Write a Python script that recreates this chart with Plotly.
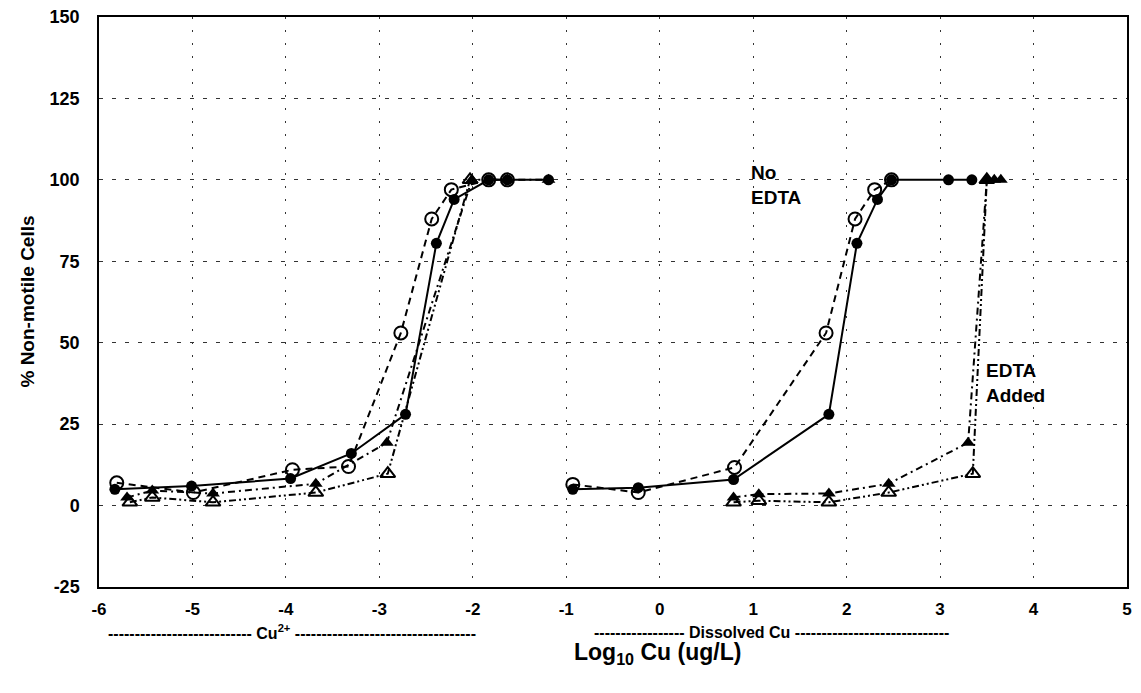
import plotly.graph_objects as go

# ---- data (log10 Cu, % non-motile cells) ----
# Left cluster: Cu2+ activity
cu_fc_x = [-5.83, -5.01, -3.95, -3.30, -2.72, -2.39, -2.20, -1.83, -1.63, -1.19]
cu_fc_y = [5, 6, 8.3, 16, 28, 80.5, 94, 100, 100, 100]
cu_oc_x = [-5.81, -4.99, -3.93, -3.33, -2.77, -2.44, -2.23, -1.83, -1.63]
cu_oc_y = [7, 4, 11, 12, 53, 88, 97, 100, 100]
cu_ft_x = [-5.70, -5.43, -4.78, -3.68, -2.92, -2.01, -1.63, -1.19]
cu_ft_y = [2.5, 4.6, 3.7, 6.7, 19.3, 100, 100, 100]
cu_ot_x = [-5.67, -5.43, -4.78, -3.68, -2.91, -2.03]
cu_ot_y = [1, 2.5, 1, 4, 9.8, 100]

# Right cluster: dissolved Cu
d_fc_x = [-0.93, -0.23, 0.79, 1.81, 2.11, 2.33, 2.48, 3.09, 3.34]
d_fc_y = [5, 5.5, 8, 28, 80.5, 94, 100, 100, 100]
d_oc_x = [-0.93, -0.23, 0.80, 1.78, 2.09, 2.30, 2.48]
d_oc_y = [6.5, 4, 11.7, 53, 88, 97, 100]
d_ft_x = [0.79, 1.06, 1.81, 2.45, 3.30, 3.50, 3.58, 3.65]
d_ft_y = [2.5, 3.5, 3.7, 6.7, 19.3, 100, 100, 100]
d_ot_x = [0.79, 1.06, 1.81, 2.45, 3.35, 3.50]
d_ot_y = [1, 1.5, 1, 4, 9.8, 100]

x_ticks = [-6, -5, -4, -3, -2, -1, 0, 1, 2, 3, 4, 5]
x_ticktext = ["-6", "-5", "-4", "-3", "-2", "-1", "0", "1", "2", "3", "4", "5"]
y_ticks = [-25, 0, 25, 50, 75, 100, 125, 150]
y_ticktext = ["-25", "0", "25", "50", "75", "100", "125", "150"]

FONT = "Arial, Liberation Sans, Helvetica, sans-serif"

styles = {
    "fc": dict(line=dict(color="black", width=2, dash="solid"),
               marker=dict(symbol="circle", size=11, color="black")),
    "oc": dict(line=dict(color="black", width=2, dash="7px,5px"),
               marker=dict(symbol="circle-open", size=13, color="black", line=dict(width=2, color="black"))),
    "ft": dict(line=dict(color="black", width=2, dash="7px,4px,2px,4px"),
               marker=dict(symbol="triangle-up", size=12, color="black")),
    "ot": dict(line=dict(color="black", width=2, dash="7px,3px,2px,3px,2px,3px"),
               marker=dict(symbol="triangle-up-open", size=13, color="black", line=dict(width=2, color="black"))),
}

fig = go.Figure()
series = [
    ("ot", cu_ot_x, cu_ot_y), ("ft", cu_ft_x, cu_ft_y), ("oc", cu_oc_x, cu_oc_y), ("fc", cu_fc_x, cu_fc_y),
    ("ot", d_ot_x, d_ot_y), ("ft", d_ft_x, d_ft_y), ("oc", d_oc_x, d_oc_y), ("fc", d_fc_x, d_fc_y),
]
for key, xs, ys in series:
    fig.add_trace(go.Scatter(x=xs, y=ys, mode="lines+markers", showlegend=False,
                             hoverinfo="x+y", **styles[key]))

# page body has an 8px margin; the figure is sized to fit the 1141x693 window
fig.update_layout(
    width=1125, height=677,
    margin=dict(l=91, r=6, t=9, b=98),
    paper_bgcolor="white", plot_bgcolor="white",
    font=dict(family=FONT, color="black", size=16, weight="bold"),
    xaxis=dict(range=[-6, 5], tickvals=x_ticks, ticktext=x_ticktext,
               showgrid=True, gridcolor="#333", gridwidth=1, griddash="2px,11px",
               showline=True, linecolor="black", linewidth=1.5, mirror=True,
               ticks="", ticklabelstandoff=6, zeroline=False, automargin=False,
               ticklabeloverflow="allow",
               tickfont=dict(family=FONT, size=17, weight="bold")),
    yaxis=dict(range=[-25, 150], tickvals=y_ticks, ticktext=y_ticktext,
               showgrid=True, gridcolor="#333", gridwidth=1, griddash="4px,9px",
               showline=True, linecolor="black", linewidth=1.5, mirror=True,
               ticks="", ticklabelstandoff=14, zeroline=False, automargin=False,
               ticklabeloverflow="allow",
               tickfont=dict(family=FONT, size=18, weight="bold")),
)

left_lbl = "-" * 27 + " Cu<sup>2+</sup> " + "-" * 34
right_lbl = "-" * 17 + " Dissolved Cu " + "-" * 29

annotations = [
    dict(text="% Non-motile Cells", xref="paper", yref="paper", x=-0.0705, y=0.5,
         textangle=-90, showarrow=False, font=dict(family=FONT, size=19, weight="bold"),
         xanchor="center", yanchor="middle"),
    dict(text="Log<sub>10</sub> Cu (ug/L)", xref="x", yref="paper", x=-0.02, y=-0.116,
         showarrow=False, font=dict(family=FONT, size=23, weight="bold"),
         xanchor="center", yanchor="middle"),
    dict(text=left_lbl, xref="x", yref="paper", x=-3.94, y=-0.079, showarrow=False,
         font=dict(family=FONT, size=16, weight="bold"), xanchor="center", yanchor="middle"),
    dict(text=right_lbl, xref="x", yref="paper", x=1.20, y=-0.079, showarrow=False,
         font=dict(family=FONT, size=16, weight="bold"), xanchor="center", yanchor="middle"),
    dict(text="No<br>EDTA", xref="x", yref="y", x=0.96, y=98.3, showarrow=False,
         align="left", xanchor="left", yanchor="middle",
         font=dict(family=FONT, size=19, weight="bold")),
    dict(text="EDTA<br>Added", xref="x", yref="y", x=3.47, y=37.7, showarrow=False,
         align="left", xanchor="left", yanchor="middle",
         font=dict(family=FONT, size=19, weight="bold")),
]
fig.update_layout(annotations=annotations)

fig.write_html("out.html")
